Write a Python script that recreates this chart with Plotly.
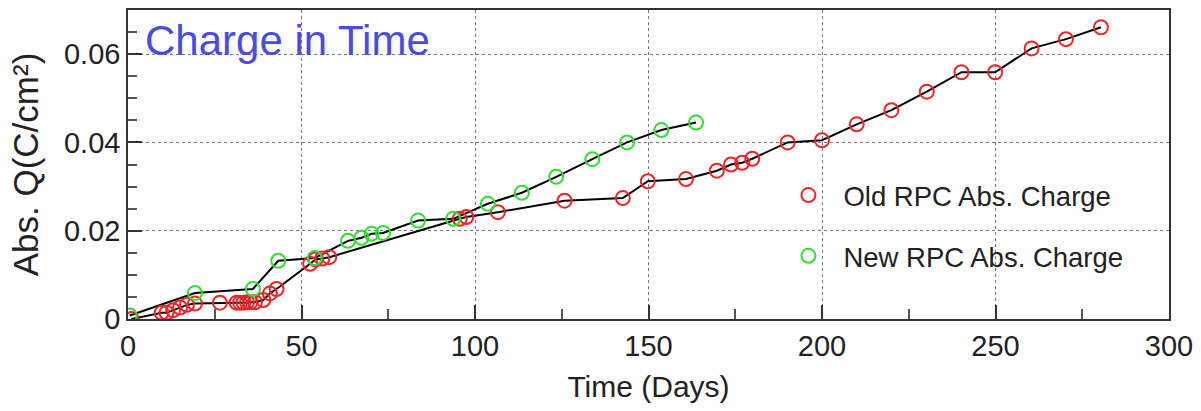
import plotly.graph_objects as go

# Old RPC absorbed charge (red)
old_days = [1, 9.7, 11.1, 13, 15, 17, 19.3, 26.5, 31.3, 32.3, 33.3, 34.3, 35.3, 36.6,
            39, 40.9, 42.8, 52.5, 54, 56, 58, 95.6, 97.5, 106.6, 125.8, 142.6, 149.8,
            160.8, 169.7, 173.8, 177, 179.9, 190.1, 200, 210, 220, 230.2, 240.2, 249.9,
            260.4, 270.3, 280.4]
old_charge = [0, 0.0014, 0.0014, 0.002, 0.0026, 0.0032, 0.0035, 0.0037, 0.0037, 0.0037,
              0.0037, 0.0038, 0.0038, 0.0038, 0.0043, 0.0058, 0.0068, 0.0125, 0.0135,
              0.0137, 0.014, 0.0227, 0.0231, 0.0242, 0.0268, 0.0274, 0.0312, 0.0317,
              0.0336, 0.035, 0.0354, 0.0363, 0.040, 0.0405, 0.0441, 0.0473, 0.0515,
              0.0559, 0.0559, 0.0613, 0.0634, 0.0661]

# New RPC absorbed charge (green)
new_days = [0.5, 19.3, 36, 43.3, 53.8, 63.4, 67.3, 70.2, 73.5, 83.6, 93.7, 103.7,
            113.5, 123.4, 133.8, 143.8, 153.7, 163.7]
new_charge = [0.0008, 0.0059, 0.0068, 0.0132, 0.0138, 0.0177, 0.0184, 0.0193, 0.0195,
              0.0223, 0.0227, 0.0261, 0.0286, 0.0322, 0.0362, 0.040, 0.0428, 0.0445]

FONT = "Liberation Sans"

fig = go.Figure()
fig.add_trace(go.Scatter(x=old_days, y=old_charge, mode="lines",
                         line=dict(color="black", width=2), showlegend=False, hoverinfo="skip"))
fig.add_trace(go.Scatter(x=new_days, y=new_charge, mode="lines",
                         line=dict(color="black", width=2), showlegend=False, hoverinfo="skip"))
fig.add_trace(go.Scatter(x=old_days, y=old_charge, mode="markers", name="Old RPC Abs. Charge",
                         legendgroup="old",
                         marker=dict(symbol="circle-open", size=14, color="#e8262b",
                                     line=dict(width=2, color="#e8262b"))))
fig.add_trace(go.Scatter(x=new_days, y=new_charge, mode="markers", name="New RPC Abs. Charge",
                         legendgroup="new",
                         marker=dict(symbol="circle-open", size=14, color="#33dd33",
                                     line=dict(width=2, color="#33dd33"))))

fig.update_layout(
    width=1201, height=411,
    margin=dict(l=128, r=30, t=8, b=92),
    paper_bgcolor="white", plot_bgcolor="white",
    font=dict(family=FONT, color="#222", size=29),
    legend=dict(x=0.620, y=0.48, xanchor="left", yanchor="top",
                bgcolor="rgba(0,0,0,0)", font=dict(size=27.5, family=FONT),
                tracegroupgap=22, itemwidth=60),
    annotations=[dict(text="Charge in Time", xref="paper", yref="paper",
                      x=0.014, y=0.985, xanchor="left", yanchor="top", showarrow=False,
                      font=dict(size=42, color="#4a4ae6", family=FONT))],
)
fig.update_xaxes(
    range=[0, 300], tick0=0, dtick=50, ticks="inside", ticklen=14, tickwidth=1.5,
    tickcolor="#333", showline=True, linecolor="#333", linewidth=1.5, mirror=True,
    showgrid=True, gridcolor="#777", griddash="dot", gridwidth=1, zeroline=False,
    minor=dict(dtick=25, ticks="inside", ticklen=10, tickcolor="#555", showgrid=False),
    title=dict(text="Time (Days)", font=dict(size=30)),
    tickfont=dict(size=29),
)
fig.update_yaxes(
    range=[0, 0.07], tick0=0, dtick=0.02, ticks="inside", ticklen=14, tickwidth=1.5,
    tickcolor="#333", showline=True, linecolor="#333", linewidth=1.5, mirror=True,
    showgrid=True, gridcolor="#777", griddash="dot", gridwidth=1, zeroline=False,
    minor=dict(dtick=0.005, ticks="inside", ticklen=9, tickcolor="#555", showgrid=False),
    title=dict(text="Abs. Q(C/cm²)", font=dict(size=35)),
    tickfont=dict(size=29),
)

fig.write_html("out.html")
